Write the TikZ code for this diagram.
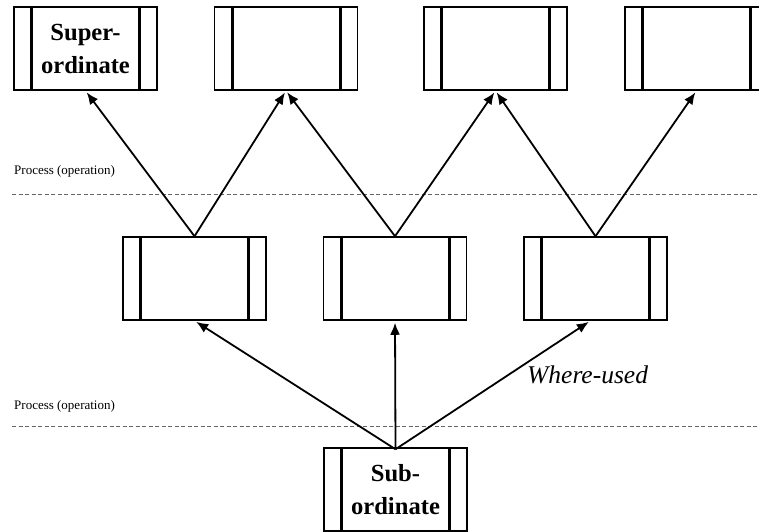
\documentclass[tikz,border=0pt]{standalone}
\usepackage{fontspec}
\setmainfont{Liberation Serif}
\usetikzlibrary{arrows.meta}

\tikzstyle{line} = [draw,-{Latex[length=12pt,width=10pt]},line width=1.8pt]
\tikzstyle{unit} = [draw,line width=1.5pt,rectangle,minimum width=143pt,minimum height=83pt,
  inner sep=0pt,align=center,font=\bfseries\fontsize{24.6}{33}\selectfont,
  path picture={
    \draw[line width=3pt] ([xshift=17.5pt]path picture bounding box.north west) -- ([xshift=17.5pt]path picture bounding box.south west);
    \draw[line width=3pt] ([xshift=-17.5pt]path picture bounding box.north east) -- ([xshift=-17.5pt]path picture bounding box.south east);
  }]
\tikzstyle{level} = [draw=black!60,dashed,dash pattern=on 4pt off 2.5pt,line width=0.8pt]
\tikzstyle{proc} = [anchor=west,inner sep=0pt,font=\fontsize{13}{15}\selectfont]

\begin{document}
\begin{tikzpicture}[x=1pt,y=-1pt]
\useasboundingbox (0,0) rectangle (759,531);
\clip (0,0) rectangle (759,531);
% superordinate row
\node[unit] (sup1) at (85.5,48.5) {Super-\\ordinate};
\node[unit] (sup2) at (286,48.5) {};
\node[unit] (sup3) at (495.5,48.5) {};
\node[unit] (sup4) at (696.5,48.5) {};
% middle row
\node[unit] (mid1) at (194.5,278.5) {};
\node[unit] (mid2) at (395,278.5) {};
\node[unit] (mid3) at (595.5,278.5) {};
% subordinate
\node[unit] (sub) at (395.5,489.5) {Sub-\\ordinate};
% process levels
\coordinate (l1a) at (12,194);
\coordinate (l1b) at (759,194);
\coordinate (l2a) at (12,426);
\coordinate (l2b) at (759,426);
\draw[level] (l1a) -- (l1b);
\draw[level] (l2a) -- (l2b);
\node[proc] (p1) at (14,171) {Process (operation)};
\node[proc] (p2) at (14,406) {Process (operation)};
% connectors
\draw[line,shorten >=2pt] (mid1.north) -- (sup1.south);
\draw[line,shorten >=2pt] (mid1.north) -- (sup2.south);
\draw[line,shorten >=2pt] (mid2.north) -- (sup2.south);
\draw[line,shorten >=2pt] (mid2.north) -- (sup3.south);
\draw[line,shorten >=2pt] (mid3.north) -- (sup3.south);
\draw[line,shorten >=2pt] (mid3.north) -- (sup4.south);
\draw[line,shorten >=2pt] ([yshift=-2pt]sub.north) -- (mid1.south);
\draw[line,shorten >=2pt] ([yshift=-2pt]sub.north) -- (mid2.south);
\draw[line,shorten >=2pt] ([yshift=-2pt]sub.north) -- ([xshift=-5pt]mid3.south);
\node[anchor=west,inner sep=0pt,font=\itshape\fontsize{25.5}{30}\selectfont] (wu) at (527,375) {Where-used};
\end{tikzpicture}
\end{document}
